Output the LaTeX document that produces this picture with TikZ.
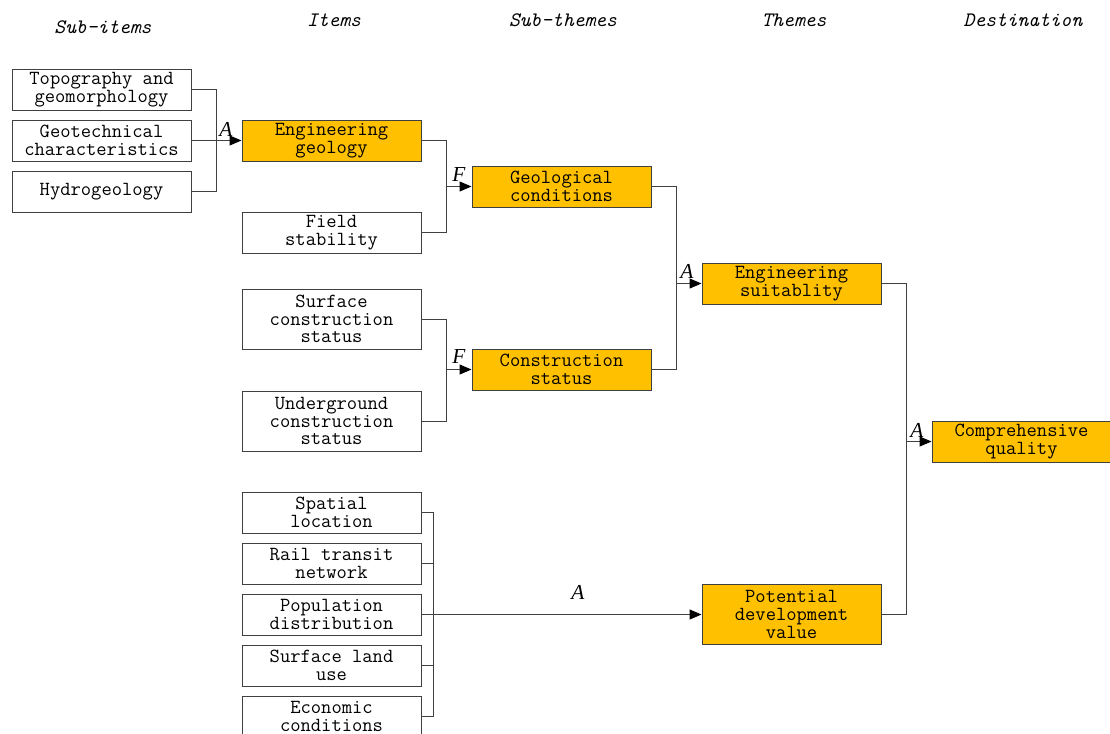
\documentclass[tikz,border=0pt]{standalone}
\usepackage{fontspec}
\usetikzlibrary{arrows.meta}
\newfontfamily\lblfont{Liberation Serif}
\definecolor{orangefill}{HTML}{FFC000}
\definecolor{linegray}{HTML}{404040}
\begin{document}
\begin{tikzpicture}[x=0.75pt,y=-0.75pt,
  box/.style={draw=linegray,line width=0.75pt,fill=white,inner sep=0pt,align=center,
    minimum width=134.25pt,minimum height=30.75pt,
    font=\ttfamily\fontsize{15}{13.2}\selectfont},
  tall/.style={minimum height=45pt},
  hot/.style={fill=orangefill},
  head/.style={font=\ttfamily\itshape\fontsize{15.4}{14}\selectfont,inner sep=0pt},
  conn/.style={draw=linegray,line width=0.75pt},
  arr/.style={conn,-{Triangle[length=9pt,width=7.5pt,fill=black,color=black]}},
  lbl/.style={font=\lblfont\itshape\fontsize{16}{16}\selectfont,inner sep=0pt}]
\useasboundingbox (0,0) rectangle (1110,733);
% headers
\node[head] (h1) at (103,27) {Sub-items};
\node[head] (h2) at (334,20) {Items};
\node[head] (h3) at (563,20) {Sub-themes};
\node[head] (h4) at (794,20) {Themes};
\node[head] (h5) at (1023,20) {Destination};
% sub-items
\node[box] (topo) at (101.5,89.5) {Topography and\\geomorphology};
\node[box] (geot) at (101.5,140.5) {Geotechnical\\characteristics};
\node[box] (hydro) at (101.5,191.5) {Hydrogeology};
% items
\node[box,hot] (enggeo) at (331.5,140.5) {Engineering\\geology};
\node[box] (field) at (331.5,232.5) {Field\\stability};
\node[box,tall] (surf) at (331.5,319) {Surface\\construction\\status};
\node[box,tall] (under) at (331.5,421) {Underground\\construction\\status};
\node[box] (spat) at (331.5,512.5) {Spatial\\location};
\node[box] (rail) at (331.5,563.5) {Rail transit\\network};
\node[box] (pop) at (331.5,614.5) {Population\\distribution};
\node[box] (land) at (331.5,665.5) {Surface land\\use};
\node[box] (econ) at (331.5,716.5) {Economic\\conditions};
% sub-themes
\node[box,hot] (geocond) at (561.5,186.5) {Geological\\conditions};
\node[box,hot] (constr) at (561.5,369.5) {Construction\\status};
% themes
\node[box,hot] (engsuit) at (791.5,283.5) {Engineering\\suitablity};
\node[box,hot,tall] (potent) at (791.5,614.5) {Potential\\development\\value};
% destination
\node[box,hot] (comp) at (1021.5,441.5) {Comprehensive\\quality};
% junctions
\coordinate (j1) at (216,140.5);
\coordinate (j2) at (446,186.5);
\coordinate (j3) at (446,369.5);
\coordinate (j4) at (676,283.5);
\coordinate (j5) at (906,441.5);
\coordinate (j6) at (433,614.5);
% connectors
\draw[conn] (topo.east) -| (j1);
\draw[conn] (hydro.east) -| (j1);
\draw[arr] (geot.east) -- (enggeo.west);
\draw[conn] (enggeo.east) -| (j2);
\draw[conn] (field.east) -| (j2);
\draw[arr] (j2) -- (geocond.west);
\draw[conn] (surf.east) -| (j3);
\draw[conn] (under.east) -| (j3);
\draw[arr] (j3) -- (constr.west);
\draw[conn] (geocond.east) -| (j4);
\draw[conn] (constr.east) -| (j4);
\draw[arr] (j4) -- (engsuit.west);
\draw[conn] (engsuit.east) -| (j5);
\draw[conn] (potent.east) -| (j5);
\draw[arr] (j5) -- (comp.west);
\draw[conn] (spat.east) -| (j6);
\draw[conn] (rail.east) -| (j6);
\draw[conn] (land.east) -| (j6);
\draw[conn] (econ.east) -| (j6);
\draw[arr] (pop.east) -- (potent.west);
% labels
\node[lbl] (la1) at (226,129) {A};
\node[lbl] (lf1) at (459,175) {F};
\node[lbl] (lf2) at (459,357) {F};
\node[lbl] (la2) at (687,271) {A};
\node[lbl] (la3) at (917,430) {A};
\node[lbl] (la4) at (578,592) {A};
\end{tikzpicture}
\end{document}
